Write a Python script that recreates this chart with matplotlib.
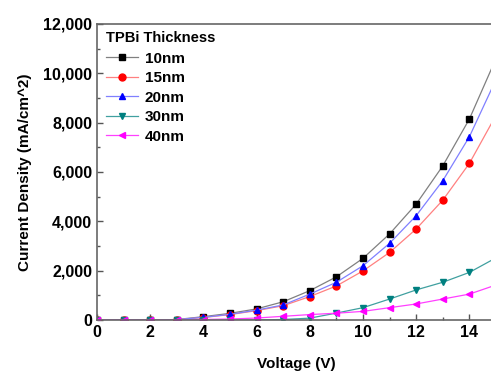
import matplotlib
matplotlib.use("Agg")
import matplotlib.pyplot as plt
from matplotlib.ticker import MultipleLocator, FuncFormatter

plt.rcParams["font.family"] = ["Liberation Sans", "DejaVu Sans"]
plt.rcParams["font.weight"] = "bold"

voltage = [0, 1, 2, 3, 4, 5, 6, 7, 8, 9, 10, 11, 12, 13, 14, 15]
j_10nm = [0, 0, 0, 20, 135, 270, 450, 740, 1190, 1750, 2500, 3490, 4700, 6250, 8150, 10600]
j_15nm = [0, 0, 0, 15, 100, 220, 380, 580, 950, 1380, 1990, 2740, 3690, 4860, 6350, 8300]
j_20nm = [0, 0, 0, 15, 110, 230, 400, 610, 1050, 1530, 2200, 3110, 4230, 5650, 7430, 9750]
j_30nm = [0, 0, 0, 0, 0, 0, 5, 20, 75, 280, 500, 850, 1220, 1530, 1930, 2520]
j_40nm = [0, 0, 0, 0, 20, 40, 80, 150, 220, 275, 350, 500, 650, 850, 1050, 1420]

series = [
    ("10nm", j_10nm, "black", "#808080", "s"),
    ("15nm", j_15nm, "red", "#ff8080", "o"),
    ("20nm", j_20nm, "blue", "#8080ff", "^"),
    ("30nm", j_30nm, "#008080", "#40a0a0", "v"),
    ("40nm", j_40nm, "magenta", "#ff40ff", "<"),
]

W, H = 491, 372
fig = plt.figure(figsize=(W / 100, H / 100), dpi=100)
ax = fig.add_axes([97 / W, 1 - 320 / H, (496 - 97) / W, (320 - 24) / H])

for label, vals, mc, lc, mk in series:
    ax.plot(voltage, vals, color=lc, lw=0.9, marker=mk, markersize=5,
            markerfacecolor=mc, markeredgecolor=mc, label=label)

ax.set_xlim(0, 15)
ax.set_ylim(0, 12000)
ax.xaxis.set_major_locator(MultipleLocator(2))
ax.xaxis.set_minor_locator(MultipleLocator(1))
ax.yaxis.set_major_locator(MultipleLocator(2000))
ax.yaxis.set_minor_locator(MultipleLocator(1000))
ax.yaxis.set_major_formatter(FuncFormatter(lambda v, p: f"{int(v):,}"))
ax.tick_params(which="both", direction="in", labelsize=11.5, colors="#555555",
               labelcolor="black", width=1)
ax.tick_params(which="major", length=4)
ax.tick_params(which="minor", length=2.5)
for sp in ax.spines.values():
    sp.set_color("#666666")
    sp.set_linewidth(1.2)

ax.set_xlabel("Voltage (V)", fontsize=11, fontweight="bold", labelpad=12)
ax.set_ylabel("Current Density (mA/cm^2)", fontsize=11, fontweight="bold", labelpad=8)

leg = ax.legend(title="TPBi Thickness", loc="upper left", frameon=False,
                fontsize=11, title_fontproperties={"weight": "bold", "size": 10.6},
                handlelength=2.1, handletextpad=0.45, labelspacing=0.36,
                borderaxespad=0.0, borderpad=0.3, bbox_to_anchor=(0.01, 0.993))
leg._legend_box.align = "left"
leg._legend_box.sep = 5

fig.savefig("out.png", dpi=100)
